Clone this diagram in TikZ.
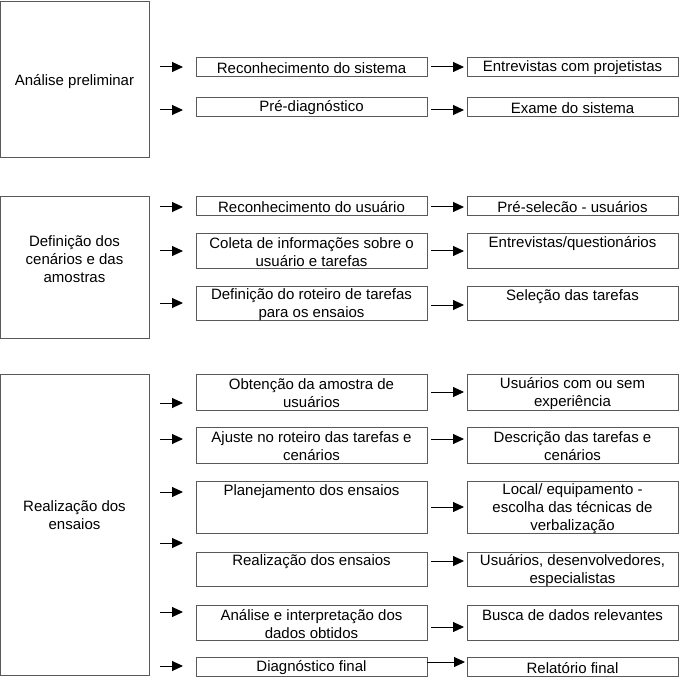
\documentclass[tikz,border=0pt]{standalone}
\usepackage{fontspec}
\setmainfont{Liberation Sans}
\usetikzlibrary{arrows.meta}
\tikzset{
  frame/.style={draw=black!65, line width=0.9pt, inner sep=0pt, fill=white},
  lbl/.style={inner sep=0pt, align=center, yshift=-1.2pt, font={\fontsize{15}{18}\selectfont}},
  arr/.style={draw=black, line width=1pt, -{Triangle[length=11pt,width=10pt]}},
}
\newcommand{\bx}[6]{% name, x1, y1, x2, y2
  \node[frame, minimum width={#4-#2}, minimum height={#5-#3}] (#1) at ({(#2+#4)/2},{(#3+#5)/2}) {};
}
\begin{document}
\begin{tikzpicture}[x=1pt,y=-1pt]
\useasboundingbox (0,0) rectangle (687,684);

% left boxes
\bx{L1}{0.5}{1}{149}{157}{}
\bx{L2}{0.5}{196}{149}{338}{}
\bx{L3}{0.5}{374}{149}{675}{}
\node[lbl] (tL1) at (74.5,80) {Análise preliminar};
\node[lbl] (tL2) at (74.5,258) {Definição dos\\cenários e das\\amostras};
\node[lbl] (tL3) at (74.5,514) {Realização dos\\ensaios};

% middle boxes
\bx{M1}{196}{57}{427}{76}{}
\bx{M2}{196}{97}{427}{116.5}{}
\bx{M3}{196}{196}{427}{215}{}
\bx{M4}{196}{233}{427}{268}{}
\bx{M5}{196}{286}{427}{320}{}
\bx{M6}{196}{374}{427}{410}{}
\bx{M7}{196}{427}{427}{463}{}
\bx{M8}{196}{481}{427}{533}{}
\bx{M9}{196}{552}{427}{586}{}
\bx{M10}{196}{605}{427}{640}{}
\bx{M11}{196}{657}{427}{676}{}

% right boxes
\bx{R1}{467}{57}{678}{76}{}
\bx{R2}{467}{97}{678}{116.5}{}
\bx{R3}{467}{196}{678}{215}{}
\bx{R4}{467}{233}{678}{268}{}
\bx{R5}{467}{286}{678}{320}{}
\bx{R6}{467}{374}{678}{410}{}
\bx{R7}{467}{427}{678}{463}{}
\bx{R8}{467}{481}{678}{533}{}
\bx{R9}{467}{552}{678}{586}{}
\bx{R10}{467}{605}{678}{640}{}
\bx{R11}{467}{657}{678}{676}{}

% middle texts
\node[lbl] (tM1) at (M1.center) {Reconhecimento do sistema};
\node[lbl] (tM2) at (M2.center) {Pré-diagnóstico};
\node[lbl] (tM3) at (M3.center) {Reconhecimento do usuário};
\node[lbl] (tM4) at (M4.center) {Coleta de informações sobre o\\usuário e tarefas};
\node[lbl] (tM5) at (M5.center) {Definição do roteiro de tarefas\\para os ensaios};
\node[lbl] (tM6) at (M6.center) {Obtenção da amostra de\\usuários};
\node[lbl] (tM7) at (M7.center) {Ajuste no roteiro das tarefas e\\cenários};
\node[lbl] (tM8) at (311.5,490) {Planejamento dos ensaios};
\node[lbl] (tM9) at (311.5,560.5) {Realização dos ensaios};
\node[lbl] (tM10) at (M10.center) {Análise e interpretação dos\\dados obtidos};
\node[lbl] (tM11) at (M11.center) {Diagnóstico final};

% right texts
\node[lbl] (tR1) at (R1.center) {Entrevistas com projetistas};
\node[lbl] (tR2) at (R2.center) {Exame do sistema};
\node[lbl] (tR3) at (R3.center) {Pré-selecão - usuários};
\node[lbl] (tR4) at (572.5,242) {Entrevistas/questionários};
\node[lbl] (tR5) at (572.5,295) {Seleção das tarefas};
\node[lbl] (tR6) at (R6.center) {Usuários com ou sem\\experiência};
\node[lbl] (tR7) at (R7.center) {Descrição das tarefas e\\cenários};
\node[lbl] (tR8) at (R8.center) {Local/ equipamento -\\escolha das técnicas de\\verbalização};
\node[lbl] (tR9) at (R9.center) {Usuários, desenvolvedores,\\especialistas};
\node[lbl] (tR10) at (572.5,614) {Busca de dados relevantes};
\node[lbl] (tR11) at (R11.center) {Relatório final};

% left arrows
\foreach \i/\y in {1/67,2/110,3/207,4/251,5/303,6/403,7/439,8/492,9/543,10/612,11/666}{
  \coordinate (la\i) at (160,\y);
  \coordinate (lb\i) at (183,\y);
  \draw[arr] (la\i) -- (lb\i);
}
% middle arrows
\foreach \i/\y in {1/67,2/110,3/207,4/251,5/305,6/392,7/439,8/507,9/561,10/627}{
  \coordinate (ma\i) at (431,\y);
  \coordinate (mb\i) at (464,\y);
  \draw[arr] (ma\i) -- (mb\i);
}
\coordinate (mb11) at (465,662);
\draw[arr] (M11.east |- mb11) -- (mb11);
\end{tikzpicture}
\end{document}
